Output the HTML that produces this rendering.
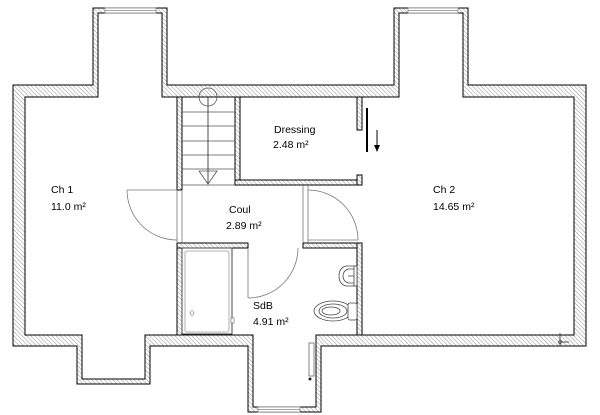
<!DOCTYPE html>
<html><head><meta charset="utf-8"><style>
html,body{margin:0;padding:0;background:#fff;width:600px;height:415px;overflow:hidden}
svg{display:block}
text{font-family:"Liberation Sans",sans-serif;font-size:10.5px;fill:#000}
</style></head><body>
<svg width="600" height="415" viewBox="0 0 600 415" xmlns="http://www.w3.org/2000/svg">
<defs>
<pattern id="h" width="3" height="3" patternUnits="userSpaceOnUse" patternTransform="rotate(-45)">
<rect width="3" height="3" fill="#fff"/><line x1="0" y1="0" x2="0" y2="3" stroke="#888" stroke-width="0.9"/>
</pattern>
</defs>
<rect width="600" height="415" fill="#fff"/>
<!-- outer wall -->
<polygon fill="url(#h)" stroke="#000" stroke-width="1" points="13,85 93,85 93,8 167,8 167,85 394,85 394,8 468,8 468,85 586,85 586,346 321,346 321,412 248,412 248,346 150,346 150,384 77,384 77,346 13,346"/>
<polygon fill="#fff" stroke="#000" stroke-width="1" points="25,97 98,97 98,13 162,13 162,97 399,97 399,13 463,13 463,97 574,97 574,335 316,335 316,407 253,407 253,335 145,335 145,379 82,379 82,335 25,335"/>
<!-- interior walls -->
<g fill="url(#h)" stroke="#000" stroke-width="1">
<rect x="177" y="97" width="5" height="93"/>
<rect x="177" y="243" width="5" height="92"/>
<rect x="235" y="97" width="5" height="88"/>
<rect x="235" y="180" width="127" height="5"/>
<rect x="357" y="97" width="5" height="33"/>
<rect x="357" y="175" width="5" height="10"/>
<rect x="177" y="243" width="71" height="5"/>
<rect x="303" y="243" width="59" height="5"/>
<rect x="357" y="243" width="5" height="92"/>
</g>
<!-- windows -->
<g fill="#fff" stroke="#888" stroke-width="0.8">
<rect x="105" y="8" width="51" height="5"/><line x1="105" y1="10.5" x2="156" y2="10.5"/>
<rect x="408" y="8" width="50" height="5"/><line x1="408" y1="10.5" x2="458" y2="10.5"/>
<rect x="258" y="407" width="42" height="5"/><line x1="258" y1="409.5" x2="300" y2="409.5"/>
</g>
<!-- stair -->
<g stroke="#555" stroke-width="0.8" fill="none">
<line x1="182" y1="112" x2="235" y2="112"/>
<line x1="182" y1="126" x2="235" y2="126"/>
<line x1="182" y1="141" x2="235" y2="141"/>
<line x1="182" y1="155" x2="235" y2="155"/>
<line x1="182" y1="169" x2="235" y2="169"/>
<line x1="182" y1="185" x2="235" y2="185"/>
<line x1="208" y1="97" x2="208" y2="184" stroke="#222"/>
<circle cx="208" cy="97" r="9"/>
<polyline points="199,171 217,171 208,184 199,171"/>
</g>
<!-- door frames -->
<g stroke="#777" stroke-width="0.8" fill="none">
<line x1="177" y1="190" x2="177" y2="243"/><line x1="182" y1="190" x2="182" y2="243"/>
<line x1="303" y1="185" x2="303" y2="243"/><line x1="308" y1="185" x2="308" y2="243"/>
<line x1="127" y1="190" x2="177" y2="190"/>
<path d="M127,190 A50,50 0 0 0 177,240"/>
<line x1="308" y1="240" x2="358" y2="240"/>
<path d="M308,190 A50,50 0 0 1 358,240"/>
<line x1="248" y1="248" x2="248" y2="298"/>
<path d="M248,298 A50,50 0 0 0 298,248"/>
</g>
<!-- bathtub -->
<rect x="182" y="248" width="50" height="86" fill="#fff" stroke="#444" stroke-width="1"/>
<rect x="185" y="251" width="44" height="81" rx="2" fill="#fff" stroke="#999" stroke-width="0.8"/>
<ellipse cx="192" cy="313" rx="1.5" ry="2.5" fill="none" stroke="#666" stroke-width="0.6"/>
<rect x="231" y="318" width="3" height="5" fill="#fff" stroke="#666" stroke-width="0.6"/>
<!-- sink -->
<g stroke="#444" stroke-width="0.8" fill="#fff">
<path d="M356,266 L346,266 Q339,268 339,276 Q339,284 346,286 L356,286 Z"/>
<path d="M355,269 L348,269 Q343,271 343,276 Q343,281 348,283 L355,283 Z" fill="none"/>
<line x1="348" y1="276" x2="356" y2="276"/>
<rect x="354" y="266" width="3" height="20"/>
</g>
<!-- WC -->
<g stroke="#444" stroke-width="0.8" fill="#fff">
<ellipse cx="333" cy="311" rx="19" ry="10"/>
<ellipse cx="333" cy="311" rx="14" ry="7" fill="none"/>
<ellipse cx="331" cy="311" rx="9" ry="4" fill="none"/>
<rect x="348" y="303" width="9" height="17" rx="2"/>
</g>
<!-- radiator -->
<rect x="309" y="343" width="5" height="33" fill="#fff" stroke="#666" stroke-width="0.8"/>
<circle cx="310" cy="379" r="1.5" fill="#222"/>
<!-- sliding arrow -->
<line x1="367" y1="108" x2="367" y2="152" stroke="#000" stroke-width="2"/>
<line x1="377" y1="130" x2="377" y2="146" stroke="#000" stroke-width="1"/>
<polygon points="374,145 380,145 377,152" fill="#000"/>
<!-- corner marker -->
<g stroke="#333" stroke-width="0.8"><line x1="560" y1="333" x2="560" y2="346"/><line x1="560" y1="342" x2="569" y2="342"/></g>
<circle cx="560" cy="342" r="1.5" fill="none" stroke="#333" stroke-width="0.6"/>
<!-- labels -->
<text x="274" y="133">Dressing</text>
<text x="273" y="148">2.48 m²</text>
<text x="51" y="193">Ch 1</text>
<text x="51" y="210">11.0 m²</text>
<text x="229" y="213">Coul</text>
<text x="226" y="229">2.89 m²</text>
<text x="433" y="193">Ch 2</text>
<text x="433" y="210">14.65 m²</text>
<text x="253" y="309">SdB</text>
<text x="253" y="325">4.91 m²</text>
</svg>
</body></html>
